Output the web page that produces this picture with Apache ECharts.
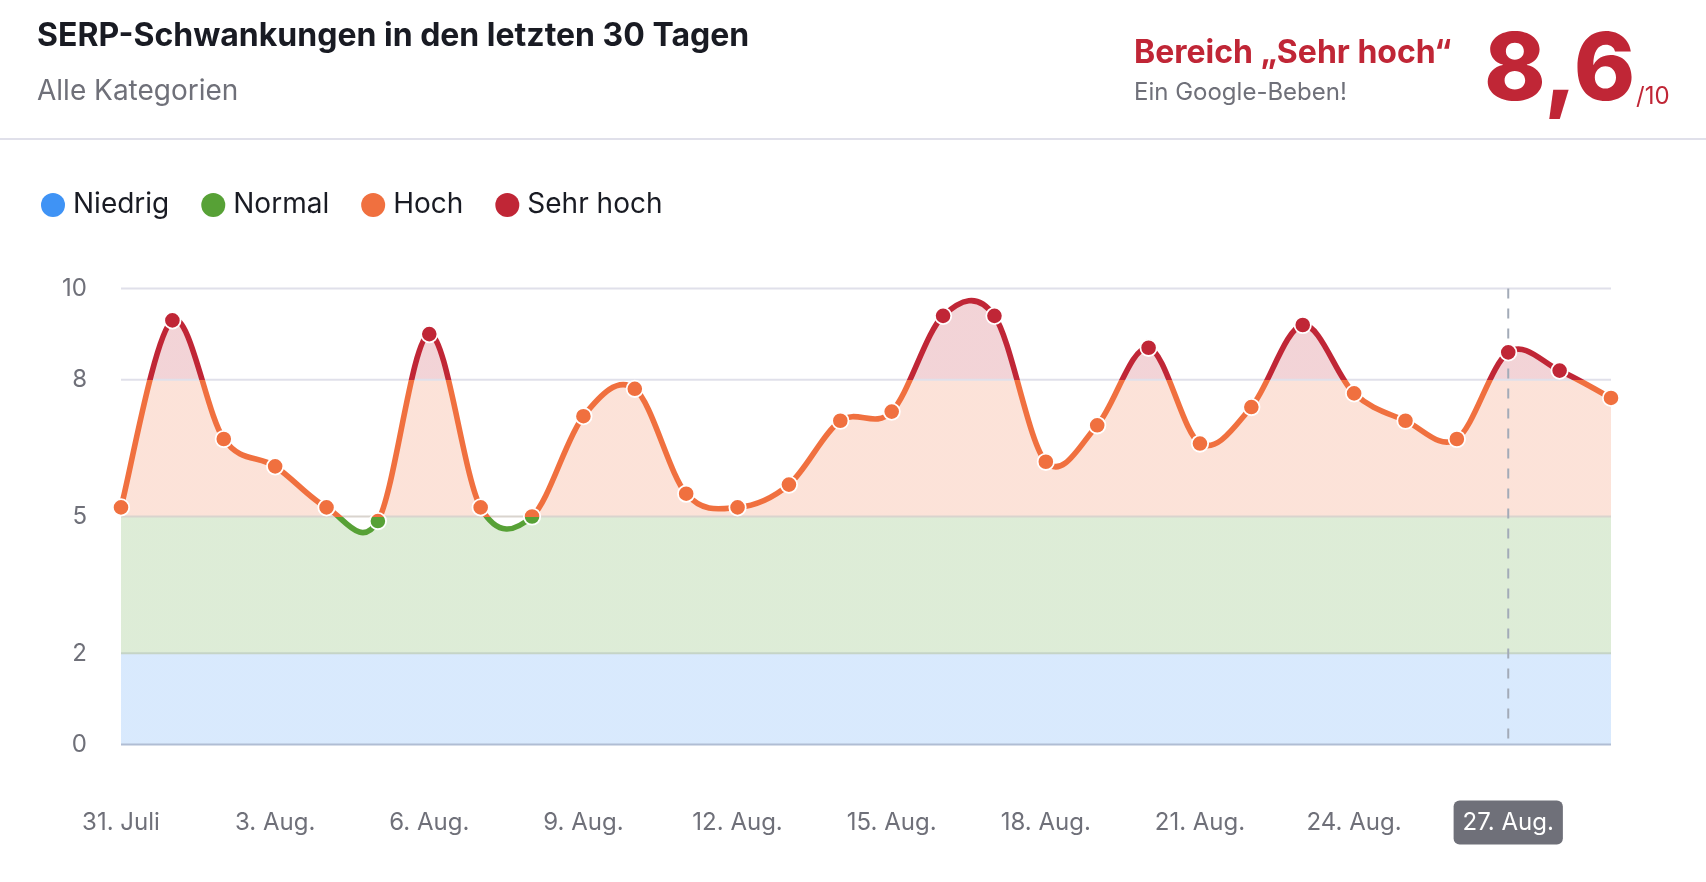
<!DOCTYPE html>
<html>
<head>
<meta charset="utf-8">
<style>html,body{margin:0;padding:0;background:#fff}#c{width:1706px;height:882px}</style>
<script src="https://cdn.jsdelivr.net/npm/echarts@6/dist/echarts.min.js"></script>
</head>
<body>
<div id="c"></div>
<script>
const dates = ['31. Juli','1. Aug.','2. Aug.','3. Aug.','4. Aug.','5. Aug.','6. Aug.','7. Aug.','8. Aug.','9. Aug.','10. Aug.','11. Aug.','12. Aug.','13. Aug.','14. Aug.','15. Aug.','16. Aug.','17. Aug.','18. Aug.','19. Aug.','20. Aug.','21. Aug.','22. Aug.','23. Aug.','24. Aug.','25. Aug.','26. Aug.','27. Aug.','28. Aug.','29. Aug.'];
const values = [5.2,9.3,6.7,6.1,5.2,4.9,9.0,5.2,5.0,7.2,7.8,5.5,5.2,5.7,7.1,7.3,9.4,9.4,6.2,7.0,8.7,6.6,7.4,9.2,7.7,7.1,6.7,8.6,8.2,7.6];
const yTicks = [0,2,5,8,10];
const activeDate = '27. Aug.';
const bandNames = ['Niedrig','Normal','Hoch','Sehr hoch'];
const bandColors = ['#3f93f5','#57a136','#f0703f','#c02636'];
const bandFills = ['rgba(63,147,245,0.2)','rgba(87,161,54,0.2)','rgba(240,112,63,0.2)','rgba(192,38,54,0.2)'];
const bandLimits = [2,5,8,10];
const titleText = 'SERP-Schwankungen in den letzten 30 Tagen';
const subtitleText = 'Alle Kategorien';
const rangeText = 'Bereich „Sehr hoch“';
const rangeNote = 'Ein Google-Beben!';
const scoreText = '8,6';
const scoreMax = '/10';

const GRAY = '#6f7079', GRID = '#e0e0ea', INK = '#191b23', FONT = 'Inter';
const gridColors = ['#b0bdd4', '#c5d4c6', '#d9d4ce', GRID, GRID];

function bandGradient(colors, api) {
  const top = api.coord([0, 10])[1], bottom = api.coord([0, 0])[1];
  const stops = [];
  for (let i = bandLimits.length - 1; i >= 0; i--) {
    const hi = bandLimits[i], from = i > 0 ? bandLimits[i - 1] : 0;
    stops.push({offset: 1 - hi / 10, color: colors[i]});
    stops.push({offset: 1 - from / 10, color: colors[i]});
  }
  return {type: 'linear', x: 0, y: top, x2: 0, y2: bottom, global: true, colorStops: stops};
}

function curvePath(pts) {
  let d = 'M' + pts[0][0] + ' ' + pts[0][1];
  for (let i = 0; i < pts.length - 1; i++) {
    const p0 = pts[Math.max(i - 1, 0)], p1 = pts[i], p2 = pts[i + 1], p3 = pts[Math.min(i + 2, pts.length - 1)];
    const c1x = p1[0] + (p2[0] - p0[0]) / 6, c1y = p1[1] + (p2[1] - p0[1]) / 6;
    const c2x = p2[0] - (p3[0] - p1[0]) / 6, c2y = p2[1] - (p3[1] - p1[1]) / 6;
    d += ' C' + c1x + ' ' + c1y + ' ' + c2x + ' ' + c2y + ' ' + p2[0] + ' ' + p2[1];
  }
  return d;
}

function renderCurve(params, api) {
  if (params.dataIndex !== 0) return null;
  const pts = values.map((v, i) => api.coord([i, v]));
  const first = api.coord([0, 0]), last = api.coord([values.length - 1, 0]);
  const line = curvePath(pts);
  const area = line + ' L' + last[0] + ' ' + last[1] + ' L' + first[0] + ' ' + first[1] + ' Z';
  const children = [{type: 'path', shape: {pathData: area}, style: {fill: bandGradient(bandFills, api), stroke: null}}];
  yTicks.forEach((t, i) => {
    const a = api.coord([0, t]), b = api.coord([values.length - 1, t]);
    children.push({type: 'line', shape: {x1: a[0], y1: a[1], x2: b[0], y2: b[1]}, style: {stroke: gridColors[i], lineWidth: 2}});
  });
  const mi = dates.indexOf(activeDate);
  const mTop = api.coord([mi, 10]), mBot = api.coord([mi, 0]);
  children.push({type: 'line', shape: {x1: mTop[0], y1: mTop[1], x2: mBot[0], y2: mBot[1]},
    style: {stroke: '#a3abb8', lineWidth: 2, lineDash: [10, 10]}});
  children.push({type: 'path', shape: {pathData: line},
    style: {fill: null, stroke: bandGradient(bandColors, api), lineWidth: 5.6, lineJoin: 'round', lineCap: 'round'}});
  return {type: 'group', children};
}

function renderDot(params, api) {
  const p = api.coord([api.value(0), api.value(1)]);
  return {type: 'circle', shape: {cx: p[0], cy: p[1], r: 8.2},
    style: {fill: bandGradient(bandColors, api), stroke: '#fff', lineWidth: 1.8}};
}

const chart = echarts.init(document.getElementById('c'), null, {renderer: 'canvas'});
const seriesData = values.map((v, i) => [i, v]);
const txt = (left, top, text, font, fill, align) => ({
  type: 'text', x: left, y: top,
  style: {text, font, fill, textAlign: align || 'left', textVerticalAlign: 'middle'}
});
chart.setOption({
  animation: false,
  backgroundColor: '#fff',
  textStyle: {fontFamily: FONT},
  grid: {left: 121, right: 95, top: 288.5, bottom: 137.5},
  legend: {
    left: 41, top: 191, padding: 0, icon: 'circle', itemWidth: 24, itemHeight: 24, itemGap: 32,
    selectedMode: false, data: bandNames,
    textStyle: {fontFamily: FONT, fontSize: 28, color: INK, padding: [0, 0, 0, 3]}
  },
  xAxis: {
    type: 'category', data: dates, boundaryGap: false,
    axisLine: {show: false}, axisTick: {show: false}, splitLine: {show: false},
    axisLabel: {
      interval: 2, margin: 66, hideOverlap: false,
      formatter: v => (v === activeDate ? '{hl|' : '{nm|') + v + '}',
      rich: {
        nm: {fontFamily: FONT, fontSize: 24, lineHeight: 24, color: GRAY, padding: [10, 9, 10, 9]},
        hl: {fontFamily: FONT, fontSize: 24, lineHeight: 24, color: '#fff', backgroundColor: '#6f7079', borderRadius: 6, padding: [10, 9, 10, 9]}
      }
    }
  },
  yAxis: {
    type: 'value', min: 0, max: 10, interval: 1,
    axisLine: {show: false}, axisTick: {show: false}, splitLine: {show: false},
    axisLabel: {customValues: yTicks, margin: 34, fontFamily: FONT, fontSize: 24, color: GRAY}
  },
  series: [
    ...bandNames.map((n, i) => ({type: 'line', name: n, data: [], itemStyle: {color: bandColors[i]}})),
    {type: 'custom', name: 'Kurve', data: seriesData, encode: {x: 0, y: 1}, renderItem: renderCurve, z: 2, silent: true},
    {type: 'custom', name: 'Punkte', data: seriesData, encode: {x: 0, y: 1}, renderItem: renderDot, z: 3, silent: true}
  ],
  graphic: [
    txt(37, 36, titleText, '700 32px Inter', INK),
    txt(37, 92, subtitleText, '400 28px Inter', GRAY),
    txt(1134, 53, rangeText, '700 32px Inter', bandColors[3]),
    txt(1134, 93, rangeNote, '400 24px Inter', GRAY),
    txt(1484, 72, scoreText, '800 93px Inter', bandColors[3]),
    txt(1636, 97, scoreMax, '400 24px Inter', bandColors[3]),
    {type: 'rect', shape: {x: 0, y: 138, width: 1706, height: 2}, style: {fill: GRID}}
  ]
});
</script>
</body>
</html>
